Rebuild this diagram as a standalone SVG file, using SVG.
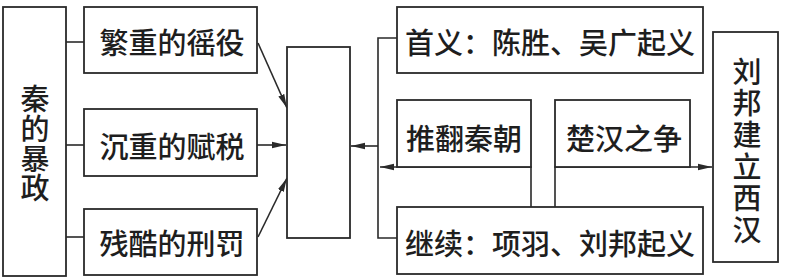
<svg xmlns="http://www.w3.org/2000/svg" width="785" height="279" viewBox="0 0 785 279">
<style>
.box{fill:#fff;stroke:#2a2a2a;stroke-width:1.8}
.ln{fill:none;stroke:#2a2a2a;stroke-width:1.6}
.t{font-family:"Noto Sans CJK SC","Noto Sans CJK JP",sans-serif;font-size:29px;font-weight:500;fill:#1e1e1e;text-anchor:middle;dominant-baseline:central}
.v{writing-mode:vertical-rl;text-orientation:upright}
</style>
<defs>
<marker id="ah" viewBox="0 0 14 8" refX="14" refY="4" markerWidth="14" markerHeight="8" markerUnits="userSpaceOnUse" orient="auto">
<path d="M0,0.8 L14,4 L0,7.2 Z" fill="#2a2a2a"/>
</marker>
</defs>
<g id="connectors">
<line class="ln" x1="66" y1="42" x2="84" y2="42"/>
<line class="ln" x1="66" y1="145" x2="84" y2="145"/>
<line class="ln" x1="66" y1="237" x2="84" y2="237"/>
<line class="ln" x1="258" y1="43" x2="287" y2="108" marker-end="url(#ah)"/>
<line class="ln" x1="257" y1="145" x2="286" y2="145" marker-end="url(#ah)"/>
<line class="ln" x1="258" y1="237" x2="287" y2="178" marker-end="url(#ah)"/>
<polyline class="ln" points="397,38 378,38 378,238 397,238"/>
<line class="ln" x1="378" y1="146" x2="351" y2="146" marker-end="url(#ah)"/>
<polyline class="ln" points="531,207 531,167 380,167" marker-end="url(#ah)"/>
<polyline class="ln" points="555,207 555,167 712,167" marker-end="url(#ah)"/>
</g>
<g id="n-qin">
<rect class="box" x="3" y="7" width="63" height="269"/>
<text class="t v" x="35" y="144" style="letter-spacing:0.7px">秦的暴政</text>
</g>
<g id="n-yaoyi">
<rect class="box" x="84" y="7" width="173" height="66"/>
<text class="t" x="172" y="41">繁重的徭役</text>
</g>
<g id="n-fushui">
<rect class="box" x="84" y="109" width="173" height="67"/>
<text class="t" x="172" y="145">沉重的赋税</text>
</g>
<g id="n-xingfa">
<rect class="box" x="84" y="209" width="173" height="66"/>
<text class="t" x="172" y="242">残酷的刑罚</text>
</g>
<g id="n-center">
<rect class="box" x="287" y="47" width="63" height="191"/>
</g>
<g id="n-shouyi">
<rect class="box" x="397" y="7" width="306" height="66"/>
<text class="t" x="550" y="41">首义：陈胜、吴广起义</text>
</g>
<g id="n-tuifan">
<rect class="box" x="397" y="100" width="134" height="67"/>
<text class="t" x="464" y="137">推翻秦朝</text>
</g>
<g id="n-chuhan">
<rect class="box" x="555" y="100" width="135" height="67"/>
<text class="t" x="624" y="137">楚汉之争</text>
</g>
<g id="n-jixu">
<rect class="box" x="397" y="207" width="306" height="67"/>
<text class="t" x="550" y="242">继续：项羽、刘邦起义</text>
</g>
<g id="n-liubang">
<rect class="box" x="713" y="32" width="65" height="230"/>
<text class="t v" x="747" y="152" style="letter-spacing:2.6px">刘邦建立西汉</text>
</g>
</svg>
